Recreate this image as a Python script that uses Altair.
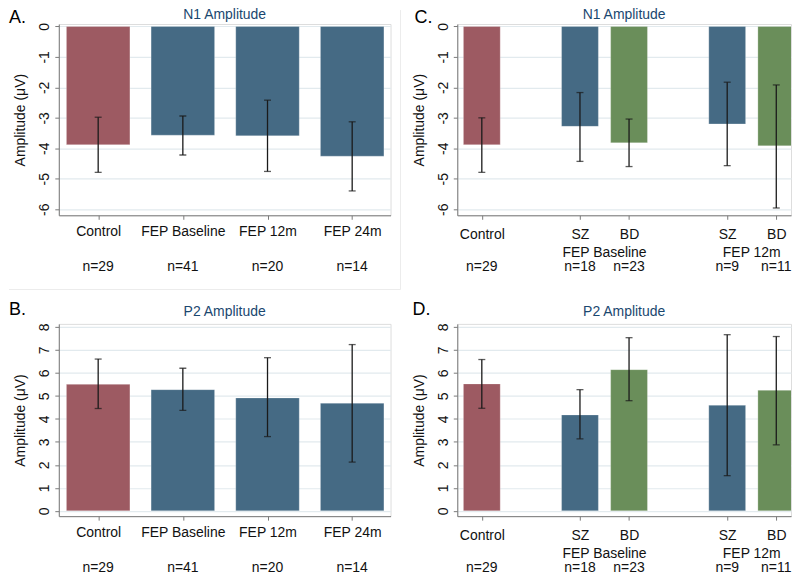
import altair as alt
import pandas as pd

# ---------------- data ----------------
cats_ab = ["Control", "FEP Baseline", "FEP 12m", "FEP 24m"]
slot_ab = [0, 1, 2, 3]
grp_ab = ["Control", "SZ", "SZ", "SZ"]
n_ab = ["n=29", "n=41", "n=20", "n=14"]
n1_mean_ab = [-3.88, -3.57, -3.59, -4.26]
n1_lo_ab = [-4.79, -4.22, -4.76, -5.40]
n1_hi_ab = [-2.98, -2.94, -2.42, -3.13]
p2_mean_ab = [5.50, 5.27, 4.91, 4.68]
p2_lo_ab = [4.45, 4.37, 3.23, 2.12]
p2_hi_ab = [6.60, 6.20, 6.66, 7.23]

cats_cd = ["Control", "SZ", "BD", "SZ", "BD"]
slot_cd = [0, 2, 3, 5, 6]
grp_cd = ["Control", "SZ", "BD", "SZ", "BD"]
n_cd = ["n=29", "n=18", "n=23", "n=9", "n=11"]
n1_mean_cd = [-3.88, -3.28, -3.82, -3.20, -3.92]
n1_lo_cd = [-4.79, -4.43, -4.60, -4.57, -5.96]
n1_hi_cd = [-3.00, -2.17, -3.04, -1.83, -1.92]
p2_mean_cd = [5.52, 4.17, 6.14, 4.59, 5.24]
p2_lo_cd = [4.46, 3.13, 4.79, 1.53, 2.87]
p2_hi_cd = [6.58, 5.27, 7.53, 7.66, 7.58]
fep_groups = ["FEP Baseline", "FEP 12m"]
fep_slots = [2.5, 5.5]

n1_ticks = [0, -1, -2, -3, -4, -5, -6]
p2_ticks = [0, 1, 2, 3, 4, 5, 6, 7, 8]

# ---------------- style ----------------
FONT = "Liberation Sans"
RED, BLUE, GREEN = "#9d5a62", "#456a84", "#6a8e5a"
TITLE_COLOR = "#1a476f"
GRID = "#e2eaee"
AXIS = "#7a7a7a"
INK = "#111111"


def panel(slots, cats, grps, ns, mean, lo, hi, xdomain, width, height,
          ydomain, yticks, title, title_y, letter, letter_xy, label_pad,
          groups=None, gslots=None, frame=False):
    df = pd.DataFrame({"slot": slots, "cat": cats, "grp": grps, "n": ns,
                       "mean": mean, "lo": lo, "hi": hi})
    names = [""] * (int(max(slots)) + 1)
    for s, c in zip(slots, cats):
        names[int(s)] = c
    expr = "[" + ",".join("'%s'" % c for c in names) + "][datum.value]"

    xscale = alt.Scale(domain=xdomain, nice=False, zero=False)
    yscale = alt.Scale(domain=ydomain, nice=False, zero=False)
    xaxis = alt.Axis(values=slots, labelExpr=expr, title=None, grid=False,
                     tickSize=4, labelPadding=label_pad, labelFontSize=14,
                     labelColor=INK, labelFont=FONT, labelAngle=0,
                     domainColor=AXIS, tickColor=AXIS, labelFlush=False,
                     labelOverlap=False)
    yaxis = alt.Axis(values=yticks, labelExpr="'' + datum.value", labelAngle=270,
                     labelAlign="center", labelBaseline="alphabetic", labelPadding=6,
                     labelOverlap=False, labelFlush=False,
                     tickSize=4, title="Amplitude (μV)", titleX=-34,
                     titleBaseline="alphabetic", titleAngle=270, titleAlign="center",
                     titleFontSize=14, titleFontWeight="normal", titleColor=INK,
                     titleFont=FONT, labelFontSize=14, labelColor=INK, labelFont=FONT,
                     grid=True, gridColor=GRID, gridWidth=1.2,
                     domainColor=AXIS, tickColor=AXIS)

    def X(field):
        return alt.X(field, scale=xscale, axis=xaxis)

    def Y(field):
        return alt.Y(field, scale=yscale, axis=yaxis)

    base = alt.Chart(df)
    layers = []
    if frame:
        one = alt.Chart(pd.DataFrame({"k": [0]}))
        layers.append(one.mark_rule(color="#ececec", strokeWidth=1).encode(
            x=alt.value(-50), x2=alt.value(width + 10),
            y=alt.value(height + 74.5)))
        layers.append(one.mark_rule(color="#ececec", strokeWidth=1).encode(
            x=alt.value(width + 10), y=alt.value(-14), y2=alt.value(height + 74.5)))
    bars = base.transform_calculate(
        x1="datum.slot - 0.375", x2="datum.slot + 0.375", zero="0"
    ).mark_bar(clip=True, stroke="#ffffff", strokeOpacity=0.25, strokeWidth=1).encode(
        x=X("x1:Q"), x2="x2:Q", y=Y("mean:Q"), y2="zero:Q",
        color=alt.Color("grp:N", scale=alt.Scale(domain=["Control", "SZ", "BD"],
                                                 range=[RED, BLUE, GREEN]),
                        legend=None),
    )
    err = base.mark_rule(color="#1a1a1a", strokeWidth=1.3).encode(
        x=X("slot:Q"), y=Y("lo:Q"), y2="hi:Q")
    cap_lo = base.mark_tick(orient="horizontal", size=7, thickness=1.3,
                            color="#1a1a1a").encode(x=X("slot:Q"), y=Y("lo:Q"))
    cap_hi = base.mark_tick(orient="horizontal", size=7, thickness=1.3,
                            color="#1a1a1a").encode(x=X("slot:Q"), y=Y("hi:Q"))
    ntext = base.mark_text(fontSize=14, font=FONT, color=INK,
                           baseline="alphabetic").encode(
        x=X("slot:Q"), y=alt.value(height + 56), text="n:N")
    head = alt.Chart(pd.DataFrame({"t": [title]})).mark_text(
        fontSize=14, font=FONT, color=TITLE_COLOR, baseline="alphabetic",
        align="center").encode(x=alt.value(width / 2), y=alt.value(title_y),
                               text="t:N")
    let = alt.Chart(pd.DataFrame({"t": [letter]})).mark_text(
        fontSize=18, font=FONT, color="#000", align="left",
        baseline="alphabetic").encode(
        x=alt.value(letter_xy[0]), y=alt.value(letter_xy[1]), text="t:N")
    layers += [bars, err, cap_lo, cap_hi, ntext, head, let]
    if groups is not None:
        gdf = pd.DataFrame({"g": groups, "slot": gslots})
        layers.append(alt.Chart(gdf).mark_text(fontSize=14, font=FONT, color=INK,
                                               baseline="alphabetic").encode(
            x=X("slot:Q"), y=alt.value(height + 42), text="g:N"))
    return alt.layer(*layers).properties(width=width, height=height)


A = panel(slot_ab, cats_ab, grp_ab, n_ab, n1_mean_ab, n1_lo_ab, n1_hi_ab,
          [-0.465, 3.453], 333, 192, [-6.2, 0.08], n1_ticks, "N1 Amplitude", -5,
          "A.", (-50, -1), 5, frame=True)
B = panel(slot_ab, cats_ab, grp_ab, n_ab, p2_mean_ab, p2_lo_ab, p2_hi_ab,
          [-0.465, 3.453], 333, 193, [-0.23, 8.13], p2_ticks, "P2 Amplitude", -8,
          "B.", (-50, -9), 5)
C = panel(slot_cd, cats_cd, grp_cd, n_cd, n1_mean_cd, n1_lo_cd, n1_hi_cd,
          [-0.5, 6.3], 335, 192, [-6.2, 0.08], n1_ticks, "N1 Amplitude", -5,
          "C.", (-43, -1), 8, fep_groups, fep_slots)
D = panel(slot_cd, cats_cd, grp_cd, n_cd, p2_mean_cd, p2_lo_cd, p2_hi_cd,
          [-0.5, 6.3], 335, 193, [-0.23, 8.13], p2_ticks, "P2 Amplitude", -8,
          "D.", (-45, -9), 8, fep_groups, fep_slots)

chart = alt.concat(
    A, C, B, D, columns=2,
    spacing=alt.RowColnumber(row=109, column=67), bounds="flush",
).properties(padding={"left": 0, "top": -2, "right": 0, "bottom": 0}).configure_view(
    stroke=None).configure(background="white")

chart.save("out.html", embed_options={"renderer": "svg", "actions": False})
